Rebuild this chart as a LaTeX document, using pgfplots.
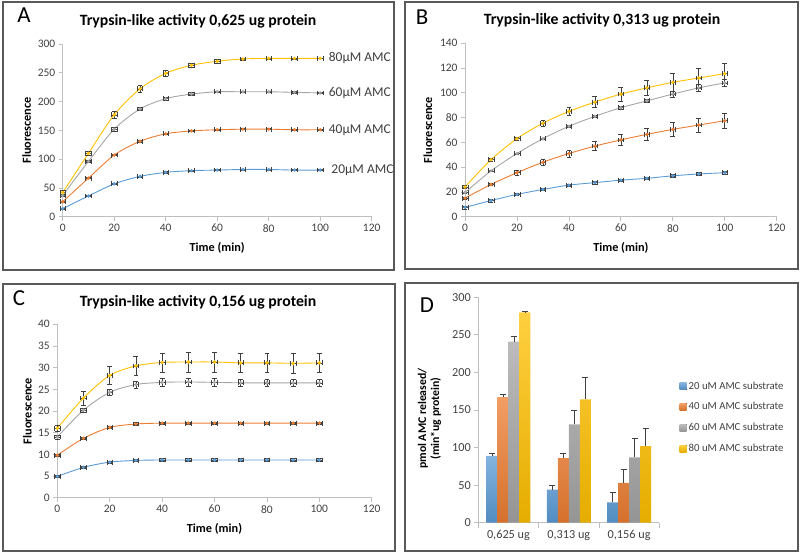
\documentclass[border=0pt]{standalone}
\usepackage{fontspec}
\setmainfont{Carlito}
\usepackage{pgfplots}
\pgfplotsset{compat=1.18}
\definecolor{cb}{HTML}{5B9BD5}
\definecolor{co}{HTML}{ED7D31}
\definecolor{cg}{HTML}{A5A5A5}
\definecolor{cy}{HTML}{FFC000}
\definecolor{axgray}{HTML}{BFBFBF}
\definecolor{lab}{HTML}{404040}
\definecolor{errc}{HTML}{404040}
\definecolor{boxc}{HTML}{595959}

\pgfplotsset{
  panel/.style={
    scale only axis, anchor=south west, clip=false,
    axis lines*=left,
    axis line style={draw=axgray, line width=0.8bp},
    tick align=outside, major tick length=4bp,
    tick style={draw=axgray, line width=0.8bp},
    ticklabel style={font=\fontsize{11.5}{13}\selectfont, text=lab},
    /pgf/number format/assume math mode=true,
    xmin=0, xmax=120, xtick={0,20,...,120},
    xlabel={Time (min)}, ylabel={Fluorescence},
    every axis x label/.style={at={(axis description cs:0.5,-0.18)}, anchor=center,
      font=\bfseries\fontsize{12.3}{14}\selectfont},
  },
  ylab/.style={every axis y label/.style={at={(axis description cs:#1,0.5)}, rotate=90, anchor=center,
      font=\bfseries\fontsize{12.3}{14}\selectfont}},
  ser/.style={
    smooth, tension=0.5, line width=0.9bp, mark=*, mark size=1.2bp,
    error bars/x dir=both, error bars/x explicit,
    error bars/y dir=both, error bars/y explicit,
    error bars/error bar style={draw=errc, line width=0.6bp},
    error bars/error mark options={draw=errc, line width=0.6bp, mark size=2.4bp, rotate=90},
  },
}

\begin{document}
\begin{tikzpicture}
\useasboundingbox (0,0) rectangle (800bp,552bp);

% panel frames
\draw[boxc, line width=1.2bp] (3bp,282bp) rectangle (394bp,550bp);
\draw[boxc, line width=1.2bp] (405bp,283bp) rectangle (798bp,550bp);
\draw[boxc, line width=1.2bp] (3bp,1bp) rectangle (395bp,268bp);
\draw[boxc, line width=1.2bp] (405bp,1bp) rectangle (798bp,269bp);

% panel letters
\node[font=\fontsize{23}{23}\selectfont] at (24bp,537bp) {A};
\node[font=\fontsize{23}{23}\selectfont] at (422bp,534.5bp) {B};
\node[font=\fontsize{23}{23}\selectfont] at (19bp,253.5bp) {C};
\node[font=\fontsize{23}{23}\selectfont] at (427bp,246.5bp) {D};

% titles
\node[font=\bfseries\fontsize{15.8}{17}\selectfont] at (198bp,531bp) {Trypsin-like activity 0,625 ug protein};
\node[font=\bfseries\fontsize{15.8}{17}\selectfont] at (602bp,531.7bp) {Trypsin-like activity 0,313 ug protein};
\node[font=\bfseries\fontsize{15.8}{17}\selectfont] at (198bp,250bp) {Trypsin-like activity 0,156 ug protein};

% ---------- A ----------
\begin{axis}[panel, ylab=-0.1165, at={(62.7bp,335.3bp)}, width=309bp, height=172.7bp,
  ymin=0, ymax=300, ytick={0,50,...,300}]
\addplot[ser, cb] coordinates {
 (0,14)+-(1.1,1) (10,36)+-(1.1,1) (20,57)+-(1.1,1) (30,70)+-(1.1,1) (40,77)+-(1.1,1) (50,80)+-(1.1,1)
 (60,81)+-(1.1,1) (70,82)+-(1.1,1) (80,82)+-(1.1,1) (90,81)+-(1.1,1) (100,81)+-(1.1,1)};
\addplot[ser, co] coordinates {
 (0,26)+-(1.1,1) (10,67)+-(1.1,1) (20,107)+-(1.1,1) (30,131)+-(1.1,1) (40,144)+-(1.1,1) (50,149)+-(1.1,1)
 (60,151)+-(1.1,1) (70,152)+-(1.1,1) (80,152)+-(1.1,1) (90,151)+-(1.1,1) (100,151)+-(1.1,1)};
\addplot[ser, cg] coordinates {
 (0,37)+-(1.1,1.5) (10,96)+-(1.1,2) (20,152)+-(1.1,3) (30,187)+-(1.1,3) (40,205)+-(1.1,3) (50,213)+-(1.1,2.5)
 (60,217)+-(1.1,1.5) (70,217)+-(1.1,1.5) (80,217)+-(1.1,1.5) (90,216)+-(1.1,1) (100,215)+-(1.1,1)};
\addplot[ser, cy] coordinates {
 (0,42)+-(1.1,3) (10,110)+-(1.1,4) (20,177)+-(1.1,6) (30,222)+-(1.1,6) (40,249)+-(1.1,5) (50,263)+-(1.1,4)
 (60,270)+-(1.1,3) (70,274)+-(1.1,2) (80,275)+-(1.1,1) (90,275)+-(1.1,1) (100,275)+-(1.1,0.5)};
\node[anchor=west, font=\fontsize{13.5}{14}\selectfont, text=lab] at (axis cs:102,275) {80µM AMC};
\node[anchor=west, font=\fontsize{13.5}{14}\selectfont, text=lab] at (axis cs:102,215) {60µM AMC};
\node[anchor=west, font=\fontsize{13.5}{14}\selectfont, text=lab] at (axis cs:102,151) {40µM AMC};
\node[anchor=west, font=\fontsize{13.5}{14}\selectfont, text=lab] at (axis cs:103,81) {20µM AMC};
\end{axis}

% ---------- B ----------
\begin{axis}[panel, ylab=-0.119, at={(465bp,335.3bp)}, width=311.7bp, height=173.4bp,
  ymin=0, ymax=140, ytick={0,20,...,140}]
\addplot[ser, cb] coordinates {
 (0,7.5)+-(1.1,1.2) (10,13)+-(1.1,1) (20,18)+-(1.1,1) (30,22)+-(1.1,1) (40,25.5)+-(1.1,1) (50,27.5)+-(1.1,1)
 (60,29.5)+-(1.1,1) (70,31)+-(1.1,1) (80,33)+-(1.1,1) (90,34.5)+-(1.1,1) (100,35.5)+-(1.1,1)};
\addplot[ser, co] coordinates {
 (0,15)+-(1.1,1) (10,26)+-(1.1,1) (20,35.5)+-(1.1,2) (30,44)+-(1.1,2.5) (40,51)+-(1.1,3) (50,57)+-(1.1,3.5)
 (60,62)+-(1.1,4.5) (70,66.5)+-(1.1,5) (80,70.5)+-(1.1,5.5) (90,74)+-(1.1,5.5) (100,77.5)+-(1.1,6)};
\addplot[ser, cg] coordinates {
 (0,19.5)+-(1.1,0.5) (10,37)+-(1.1,0.5) (20,51)+-(1.1,0.5) (30,63)+-(1.1,0.5) (40,73)+-(1.1,0.5) (50,81)+-(1.1,1)
 (60,88)+-(1.1,1.5) (70,93.5)+-(1.1,1.5) (80,99)+-(1.1,2.5) (90,104)+-(1.1,3) (100,108)+-(1.1,3)};
\addplot[ser, cy] coordinates {
 (0,24)+-(1.1,1) (10,46)+-(1.1,1) (20,63)+-(1.1,1.5) (30,75.5)+-(1.1,2.5) (40,85)+-(1.1,3.5) (50,92.5)+-(1.1,4.5)
 (60,99)+-(1.1,5.5) (70,104)+-(1.1,6) (80,108.5)+-(1.1,7) (90,112)+-(1.1,7.5) (100,115.5)+-(1.1,8)};
\end{axis}

% ---------- C ----------
\begin{axis}[panel, ylab=-0.095, at={(57.3bp,54.3bp)}, width=314.4bp, height=173.4bp,
  ymin=0, ymax=40, ytick={0,5,...,40}]
\addplot[ser, cb] coordinates {
 (0,4.9)+-(1.1,0.2) (10,7.0)+-(1.1,0.2) (20,8.2)+-(1.1,0.3) (30,8.6)+-(1.1,0.3) (40,8.7)+-(1.1,0.3) (50,8.7)+-(1.1,0.3)
 (60,8.7)+-(1.1,0.3) (70,8.7)+-(1.1,0.3) (80,8.7)+-(1.1,0.3) (90,8.7)+-(1.1,0.3) (100,8.7)+-(1.1,0.3)};
\addplot[ser, co] coordinates {
 (0,9.8)+-(1.1,0.2) (10,13.7)+-(1.1,0.2) (20,16.2)+-(1.1,0.3) (30,17.0)+-(1.1,0.3) (40,17.2)+-(1.1,0.3) (50,17.2)+-(1.1,0.3)
 (60,17.2)+-(1.1,0.3) (70,17.2)+-(1.1,0.3) (80,17.2)+-(1.1,0.3) (90,17.2)+-(1.1,0.3) (100,17.2)+-(1.1,0.3)};
\addplot[ser, cg] coordinates {
 (0,14)+-(1.1,0.5) (10,20.2)+-(1.1,0.5) (20,24.3)+-(1.1,0.6) (30,26.1)+-(1.1,0.8) (40,26.6)+-(1.1,0.9) (50,26.7)+-(1.1,0.9)
 (60,26.6)+-(1.1,0.9) (70,26.5)+-(1.1,0.9) (80,26.5)+-(1.1,0.9) (90,26.5)+-(1.1,0.9) (100,26.5)+-(1.1,0.9)};
\addplot[ser, cy] coordinates {
 (0,16)+-(1.1,0.7) (10,23)+-(1.1,1.6) (20,28.2)+-(1.1,2) (30,30.4)+-(1.1,2.2) (40,31.2)+-(1.1,2.2) (50,31.3)+-(1.1,2.3)
 (60,31.3)+-(1.1,2.3) (70,31.1)+-(1.1,2.2) (80,31.1)+-(1.1,2.2) (90,31.0)+-(1.1,2.2) (100,31.1)+-(1.1,2.2)};
\end{axis}

% ---------- D ----------
\begin{axis}[scale only axis, anchor=south west, at={(478.3bp,29.3bp)}, width=181bp, height=225.4bp,
  axis lines*=left,
  axis line style={draw=axgray, line width=0.8bp},
  tick align=outside, major tick length=4bp, minor tick length=5bp,
  tick style={draw=axgray, line width=0.8bp},
  major x tick style={draw=none},
  ticklabel style={font=\fontsize{12.3}{14}\selectfont, text=lab},
  /pgf/number format/assume math mode=true,
  ymin=0, ymax=300, ytick={0,50,...,300},
  xmin=-0.5, xmax=2.5, xtick={0,1,2},
  xticklabels={{0,625 ug},{0,313 ug},{0,156 ug}},
  minor xtick={-0.5,0.5,1.5,2.5},
  ybar=0pt, bar width=11bp,
  ylabel={pmol AMC released/\\(min*ug protein)},
  every axis y label/.style={at={(axis description cs:-0.27,0.462)}, rotate=90, anchor=center,
     align=center, font=\bfseries\fontsize{11.8}{13}\selectfont},
  legend style={at={(axis description cs:1.095,0.467)}, anchor=west, draw=none, fill=none,
     font=\fontsize{10.8}{12}\selectfont, text=lab, row sep=8bp, cells={anchor=west}},
  legend image code/.code={\fill[#1] (0bp,-3.5bp) rectangle (7bp,3.5bp);},
  error bars/y dir=plus, error bars/y explicit,
  error bars/error bar style={draw=errc, line width=0.6bp},
  error bars/error mark options={draw=errc, line width=0.6bp, mark size=3bp, rotate=90},
]
\addplot[draw=none, top color=cb!75!white, bottom color=cb!90!black] coordinates {(0,89)+-(0,3) (1,44)+-(0,5.5) (2,27)+-(0,13)};
\addplot[draw=none, top color=co!75!white, bottom color=co!90!black] coordinates {(0,167)+-(0,3.5) (1,86)+-(0,7) (2,53)+-(0,18.5)};
\addplot[draw=none, top color=cg!75!white, bottom color=cg!90!black] coordinates {(0,241)+-(0,7.5) (1,131)+-(0,18.5) (2,87)+-(0,25)};
\addplot[draw=none, top color=cy!75!white, bottom color=cy!90!black] coordinates {(0,280)+-(0,1) (1,164)+-(0,30) (2,102)+-(0,23.5)};
\legend{20 uM AMC substrate, 40 uM AMC substrate, 60 uM AMC substrate, 80 uM AMC substrate}
\end{axis}
\end{tikzpicture}
\end{document}
